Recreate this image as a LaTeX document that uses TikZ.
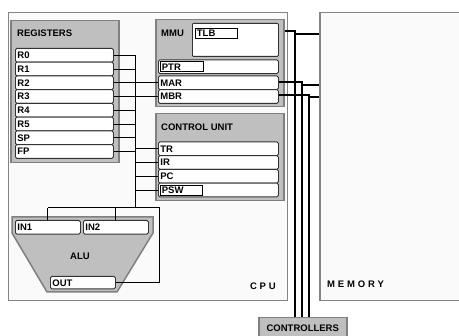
\documentclass[tikz,border=0pt]{standalone}
\usepackage{fontspec}
\setmainfont{Liberation Sans}
\usetikzlibrary{calc}
\begin{document}
\begin{tikzpicture}[x=1pt,y=-1pt,
  font=\fontsize{9.5}{11}\selectfont\bfseries,
  frame/.style={draw=black!48, fill=black!2, line width=1pt, anchor=north west, inner sep=0pt},
  grp/.style={draw=black!50, fill=black!25, line width=1.5pt, anchor=north west, inner sep=0pt},
  grpfill/.style={draw=black!50, fill=black!25, line width=1.5pt},
  regcell/.style={draw=black!80, fill=white, rounded corners=1.5pt, line width=0.8pt, anchor=north west,
     inner xsep=2pt, inner ysep=0pt, text width=94pt, minimum height=13.75pt, align=left,
     text height=6.8pt, text depth=0pt},
  rowcell/.style={draw=black!80, fill=white, rounded corners=1.5pt, line width=0.8pt, anchor=north west,
     inner xsep=2pt, inner ysep=0pt, text width=116pt, minimum height=13.75pt, align=left,
     text height=6.8pt, text depth=0pt},
  lblbox/.style={draw=black, fill=white, line width=0.8pt, anchor=north west, inner xsep=1.5pt, inner ysep=0pt,
     minimum height=10pt, align=left, text height=6.8pt, text depth=0pt},
  txt/.style={inner sep=0pt, text height=6.8pt, text depth=0pt},
  wire/.style={draw=black, line width=1pt},
  bigw/.style={draw=black, line width=2pt}
]
\clip (0,0) rectangle (459,336);
\fill[white] (0,0) rectangle (459,336);

% outer frames
\node[frame, minimum width=279pt, minimum height=288pt] (cpu) at (8,12) {};
\node[frame, line width=1.5pt, minimum width=170pt, minimum height=288pt] (mem) at (319,12) {};
\node[txt, anchor=east] (cpulbl) at (276,286) {\addfontfeature{LetterSpace=30}CPU};
\node[txt, anchor=west] (memlbl) at (327,284) {\addfontfeature{LetterSpace=30}MEMORY};

% registers
\node[grp, minimum width=108pt, minimum height=142pt] (regs) at (10,20) {};
\node[txt, anchor=west] (reglbl) at (17,33.5) {REGISTERS};
\node[regcell] (R0) at (15,48) {R0};
\node[regcell] (R1) at (15,61.75) {R1};
\node[regcell] (R2) at (15,75.5) {R2};
\node[regcell] (R3) at (15,89.25) {R3};
\node[regcell] (R4) at (15,103) {R4};
\node[regcell] (R5) at (15,116.75) {R5};
\node[regcell] (SP) at (15,130.5) {SP};
\node[regcell] (FP) at (15,144.25) {FP};

% MMU
\node[grp, minimum width=128pt, minimum height=87pt] (mmu) at (155,19) {};
\node[txt, anchor=west] (mmulbl) at (161,33) {MMU};
\node[draw=black!80, fill=white, rounded corners=1pt, line width=0.8pt, anchor=north west, inner sep=0pt,
      minimum width=86pt, minimum height=33pt] (tlb) at (192,23) {};
\node[lblbox, text width=39pt] (tlblbl) at (195,28) {TLB};
\node[rowcell] (PTR) at (158,59.5) {};
\node[lblbox, text width=40pt] (ptrlbl) at (160,61.5) {PTR};
\node[rowcell] (MAR) at (158,75.5) {MAR};
\node[rowcell] (MBR) at (158,89.25) {MBR};

% control unit
\node[grp, minimum width=128pt, minimum height=87pt] (cu) at (155,113) {};
\node[txt, anchor=west] (culbl) at (161,127) {CONTROL UNIT};
\node[rowcell] (TR) at (158,141.5) {TR};
\node[rowcell] (IR) at (158,155.25) {IR};
\node[rowcell] (PC) at (158,169) {PC};
\node[rowcell] (PSW) at (158,182.75) {};
\node[lblbox, text width=39pt] (pswlbl) at (160,185) {PSW};

% ALU
\draw[grpfill] (12,217) -- (153,217) -- (153,233) -- (117,292) -- (47,292) -- (12,233) -- cycle;
\node[regcell, text width=61pt] (IN1) at (15,220) {IN1};
\node[regcell, text width=61pt] (IN2) at (83,220) {IN2};
\node[txt] (alulbl) at (80,256) {ALU};
\node[regcell, text width=61pt, minimum height=12.5pt] (OUT) at (50,276) {OUT};

% controllers
\node[grp, minimum width=88pt, minimum height=20pt, text height=6.8pt, text depth=0pt] (ctrl) at (258,317) {CONTROLLERS};

% register bus wiring
\coordinate (bx) at (135,0);
\coordinate (aj) at (135,208);
\coordinate (ar) at (159,208);
\foreach \r in {R0,R1,R4,R5,SP,FP} {\draw[wire] (\r.east) -- (\r.east -| bx);}
\draw[wire] (R2.east) -- (R2.east -| MAR.west);
\draw[wire] (R3.east) -- (R3.east -| MBR.west);
\draw[wire] (R0.east -| bx) -- (aj);
\foreach \r in {TR,IR,PC,PSW} {\draw[wire] (\r.west -| bx) -- (\r.west);}
\draw[wire] (IN1.north |- ar) -- (ar) |- (OUT.east);
\draw[wire] (IN1.north |- ar) -- (IN1.north);
\draw[wire] (IN2.north |- ar) -- (IN2.north);

% memory / controller buses
\coordinate (c1) at (295,31);
\coordinate (c2) at (302,82);
\coordinate (c3) at (309,95);
\draw[bigw] (mmu.east |- c1) -- ([xshift=1pt]c1);
\draw[bigw] ([yshift=-1pt]c1) -- (c1 |- ctrl.north);
\draw[bigw] (c1 |- 0,34) -- (mem.west |- 0,34);
\draw[bigw] (MAR.east |- c2) -- ([xshift=1pt]c2);
\draw[bigw] ([yshift=-1pt]c2) -- (c2 |- ctrl.north);
\draw[bigw] (c2 |- 0,85) -- (mem.west |- 0,85);
\draw[bigw] (MBR.east |- c3) -- ([xshift=1pt]c3);
\draw[bigw] ([yshift=-1pt]c3) -- (c3 |- ctrl.north);
\draw[bigw] (c3 |- 0,97.5) -- (mem.west |- 0,97.5);
\end{tikzpicture}
\end{document}
